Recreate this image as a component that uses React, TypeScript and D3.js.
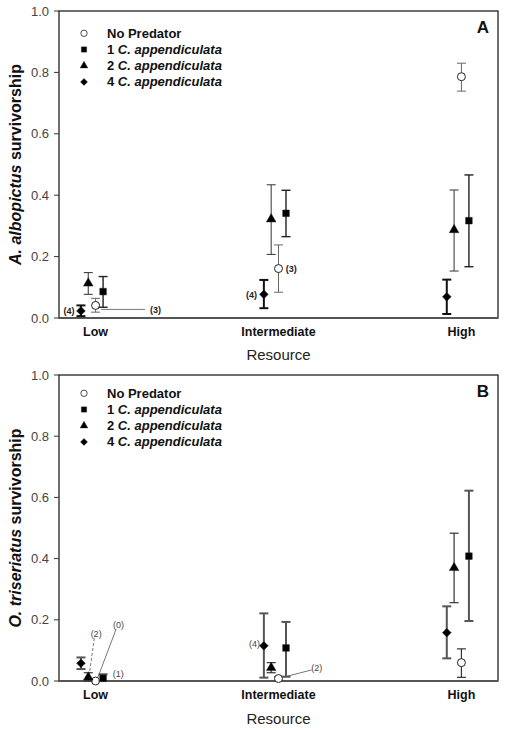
import React from "react";
import * as d3 from "d3";

const categories = ["Low", "Intermediate", "High"];
const seriesNames = ["No Predator", "1", "2", "4"];
const seriesOffsets = [0, 0.041, -0.04, -0.08];

// Panel A (A. albopictus)
const aNoPredMean = [0.041, 0.161, 0.786];
const aNoPredLo = [0.019, 0.084, 0.739];
const aNoPredHi = [0.064, 0.238, 0.83];
const aOneMean = [0.086, 0.341, 0.317];
const aOneLo = [0.035, 0.265, 0.167];
const aOneHi = [0.135, 0.416, 0.466];
const aTwoMean = [0.113, 0.322, 0.287];
const aTwoLo = [0.077, 0.207, 0.153];
const aTwoHi = [0.148, 0.434, 0.417];
const aFourMean = [0.023, 0.077, 0.069];
const aFourLo = [0.006, 0.032, 0.013];
const aFourHi = [0.041, 0.124, 0.125];

// Panel B (O. triseriatus)
const bNoPredMean = [0.0, 0.008, 0.06];
const bNoPredLo = [0.0, 0.002, 0.012];
const bNoPredHi = [0.0, 0.014, 0.105];
const bOneMean = [0.009, 0.108, 0.408];
const bOneLo = [0.0, 0.014, 0.196];
const bOneHi = [0.022, 0.193, 0.622];
const bTwoMean = [0.012, 0.043, 0.37];
const bTwoLo = [0.0, 0.027, 0.256];
const bTwoHi = [0.027, 0.06, 0.483];
const bFourMean = [0.058, 0.115, 0.158];
const bFourLo = [0.039, 0.011, 0.074];
const bFourHi = [0.077, 0.221, 0.244];

const yTicks = [0, 0.2, 0.4, 0.6, 0.8, 1.0];

// annotations: category index, x offset (category units), value
const aNotes = [
  { cat: 0, dx: -0.115, y: 0.023, text: "(4)", anchor: "end" },
  { cat: 0, dx: 0.298, y: 0.026, text: "(3)", anchor: "start" },
  { cat: 1, dx: 0.04, y: 0.161, text: "(3)", anchor: "start" },
  { cat: 1, dx: -0.117, y: 0.077, text: "(4)", anchor: "end" },
];
const aLeaders = [{ cat: 0, dx1: 0.03, y1: 0.028, dx2: 0.27, y2: 0.028, dash: false }];

const bNotes = [
  { cat: 0, dx: 0.003, y: 0.154, text: "(2)", anchor: "middle" },
  { cat: 0, dx: 0.125, y: 0.183, text: "(0)", anchor: "middle" },
  { cat: 0, dx: 0.094, y: 0.025, text: "(1)", anchor: "start" },
  { cat: 1, dx: -0.101, y: 0.12, text: "(4)", anchor: "end" },
  { cat: 1, dx: 0.209, y: 0.042, text: "(2)", anchor: "middle" },
];
const bLeaders = [
  { cat: 0, dx1: -0.007, y1: 0.14, dx2: -0.034, y2: 0.023, dash: true },
  { cat: 0, dx1: 0.112, y1: 0.169, dx2: 0.007, y2: 0.003, dash: false },
  { cat: 1, dx1: 0.181, y1: 0.036, dx2: 0.023, y2: 0.012, dash: false },
];

const symbolTypes = [d3.symbolCircle, d3.symbolSquare, d3.symbolTriangle, d3.symbolSquare];
const symbolSizes = [50, 44, 40, 38];
const symbolRotate = [0, 0, 0, 45];
const symbolFill = ["#fff", "#000", "#000", "#000"];

const FONT = "Arial, 'Liberation Sans', Helvetica, sans-serif";

type PanelProps = {
  top: number;
  bottom: number;
  letter: string;
  titleItalic: string;
  data: { mean: number[]; lo: number[]; hi: number[] }[];
  errStyles: { color: string; width: number }[];
  notes: typeof aNotes;
  leaders: typeof aLeaders;
  noteBold: boolean;
  noteColor: string;
  xLabelY: number;
  resY: number;
  legendY: number;
};

const left = 59;
const right = 498;

function Panel(p: PanelProps) {
  const x = d3.scaleLinear().domain([0.8, 3.2]).range([left, right]);
  const y = d3.scaleLinear().domain([0, 1]).range([p.bottom, p.top]);
  const sym = (i: number) => d3.symbol().type(symbolTypes[i]).size(symbolSizes[i])() as string;
  const midY = (p.top + p.bottom) / 2;
  const titleX = 15;
  return (
    <g>
      {/* frame */}
      <rect x={left} y={p.top} width={right - left} height={p.bottom - p.top} fill="none" stroke="#222" strokeWidth={1.3} />
      <line x1={left} x2={right} y1={p.bottom} y2={p.bottom} stroke="#555" strokeWidth={2} />
      {/* y ticks */}
      {yTicks.map((t) => (
        <g key={t}>
          <line x1={left - 5} x2={left} y1={y(t)} y2={y(t)} stroke="#333" strokeWidth={1} />
          <text x={left - 10} y={y(t)} dy="0.35em" textAnchor="end" fontSize={13} fill="#444" fontFamily={FONT}>
            {d3.format(".1f")(t)}
          </text>
        </g>
      ))}
      {/* x labels */}
      {categories.map((c, i) => (
        <text key={c} x={x(i + 1)} y={p.xLabelY} dy="0.35em" textAnchor="middle" fontSize={12.5} fontWeight="bold" fill="#111" fontFamily={FONT}>
          {c}
        </text>
      ))}
      <text x={x(2)} y={p.resY} dy="0.35em" textAnchor="middle" fontSize={15} fill="#222" fontFamily={FONT}>
        Resource
      </text>
      {/* y title */}
      <text transform={`translate(${titleX},${midY}) rotate(-90)`} textAnchor="middle" dy="0.35em" fontSize={16} fontWeight="bold" fill="#111" fontFamily={FONT}>
        <tspan fontStyle="italic">{p.titleItalic}</tspan>
        <tspan> survivorship</tspan>
      </text>
      {/* panel letter */}
      <text x={483} y={p.top + 16} dy="0.35em" textAnchor="middle" fontSize={17} fontWeight="bold" fill="#111" fontFamily={FONT}>
        {p.letter}
      </text>
      {/* legend */}
      {seriesNames.map((s, i) => (
        <g key={s} transform={`translate(0,${p.legendY + i * 16.2})`}>
          <path d={sym(i)} transform={`translate(84,0) rotate(${symbolRotate[i]}) scale(0.8)`} fill={symbolFill[i]} stroke="#222" strokeWidth={i === 0 ? 1 : 0.5} />
          <text x={107} y={0} dy="0.35em" fontSize={13} fontWeight="bold" fill="#111" fontFamily={FONT}>
            {i === 0 ? (
              s
            ) : (
              <>
                <tspan>{s} </tspan>
                <tspan fontStyle="italic">C. appendiculata</tspan>
              </>
            )}
          </text>
        </g>
      ))}
      {/* leaders */}
      {p.leaders.map((l, k) => (
        <line
          key={k}
          x1={x(l.cat + 1 + l.dx1)}
          y1={y(l.y1)}
          x2={x(l.cat + 1 + l.dx2)}
          y2={y(l.y2)}
          stroke="#777"
          strokeWidth={1}
          strokeDasharray={l.dash ? "3,2" : undefined}
        />
      ))}
      {/* error bars and points */}
      {p.data.map((d, si) =>
        d.mean.map((m, ci) => {
          const cx = x(ci + 1 + seriesOffsets[si]);
          const es = p.errStyles[si];
          const hasErr = d.hi[ci] - d.lo[ci] > 0.001;
          return (
            <g key={`${si}-${ci}`}>
              {hasErr && (
                <g stroke={es.color} strokeWidth={es.width}>
                  <line x1={cx} x2={cx} y1={y(d.lo[ci])} y2={y(d.hi[ci])} />
                  <line x1={cx - 4.5} x2={cx + 4.5} y1={y(d.lo[ci])} y2={y(d.lo[ci])} />
                  <line x1={cx - 4.5} x2={cx + 4.5} y1={y(d.hi[ci])} y2={y(d.hi[ci])} />
                </g>
              )}
              <path d={sym(si)} transform={`translate(${cx},${y(m)}) rotate(${symbolRotate[si]})`} fill={symbolFill[si]} stroke="#222" strokeWidth={si === 0 ? 1 : 0.5} />
            </g>
          );
        })
      )}
      {/* notes */}
      {p.notes.map((n, k) => (
        <text
          key={k}
          x={x(n.cat + 1 + n.dx)}
          y={y(n.y)}
          dy="0.35em"
          textAnchor={n.anchor as any}
          fontSize={9}
          fontWeight={p.noteBold ? "bold" : "normal"}
          fill={p.noteColor}
          fontFamily={FONT}
        >
          {n.text}
        </text>
      ))}
    </g>
  );
}

export default function App() {
  const dataA = [
    { mean: aNoPredMean, lo: aNoPredLo, hi: aNoPredHi },
    { mean: aOneMean, lo: aOneLo, hi: aOneHi },
    { mean: aTwoMean, lo: aTwoLo, hi: aTwoHi },
    { mean: aFourMean, lo: aFourLo, hi: aFourHi },
  ];
  const dataB = [
    { mean: bNoPredMean, lo: bNoPredLo, hi: bNoPredHi },
    { mean: bOneMean, lo: bOneLo, hi: bOneHi },
    { mean: bTwoMean, lo: bTwoLo, hi: bTwoHi },
    { mean: bFourMean, lo: bFourLo, hi: bFourHi },
  ];
  const errA = [
    { color: "#666", width: 1 },
    { color: "#222", width: 1.4 },
    { color: "#444", width: 1.1 },
    { color: "#111", width: 2 },
  ];
  const errB = [
    { color: "#333", width: 1.2 },
    { color: "#555", width: 2 },
    { color: "#333", width: 1.2 },
    { color: "#555", width: 2 },
  ];
  return (
    <svg width={505} height={730} style={{ position: "absolute", left: 0, top: 0, background: "#fff" }}>
      <rect width={505} height={730} fill="#fff" />
      <Panel
        top={11}
        bottom={318}
        letter="A"
        titleItalic="A. albopictus"
        data={dataA}
        errStyles={errA}
        notes={aNotes}
        leaders={aLeaders}
        noteBold={true}
        noteColor="#222"
        xLabelY={332}
        resY={355}
        legendY={33.3}
      />
      <Panel
        top={375}
        bottom={681}
        letter="B"
        titleItalic="O. triseriatus"
        data={dataB}
        errStyles={errB}
        notes={bNotes}
        leaders={bLeaders}
        noteBold={false}
        noteColor="#444"
        xLabelY={695}
        resY={719}
        legendY={393.3}
      />
    </svg>
  );
}
